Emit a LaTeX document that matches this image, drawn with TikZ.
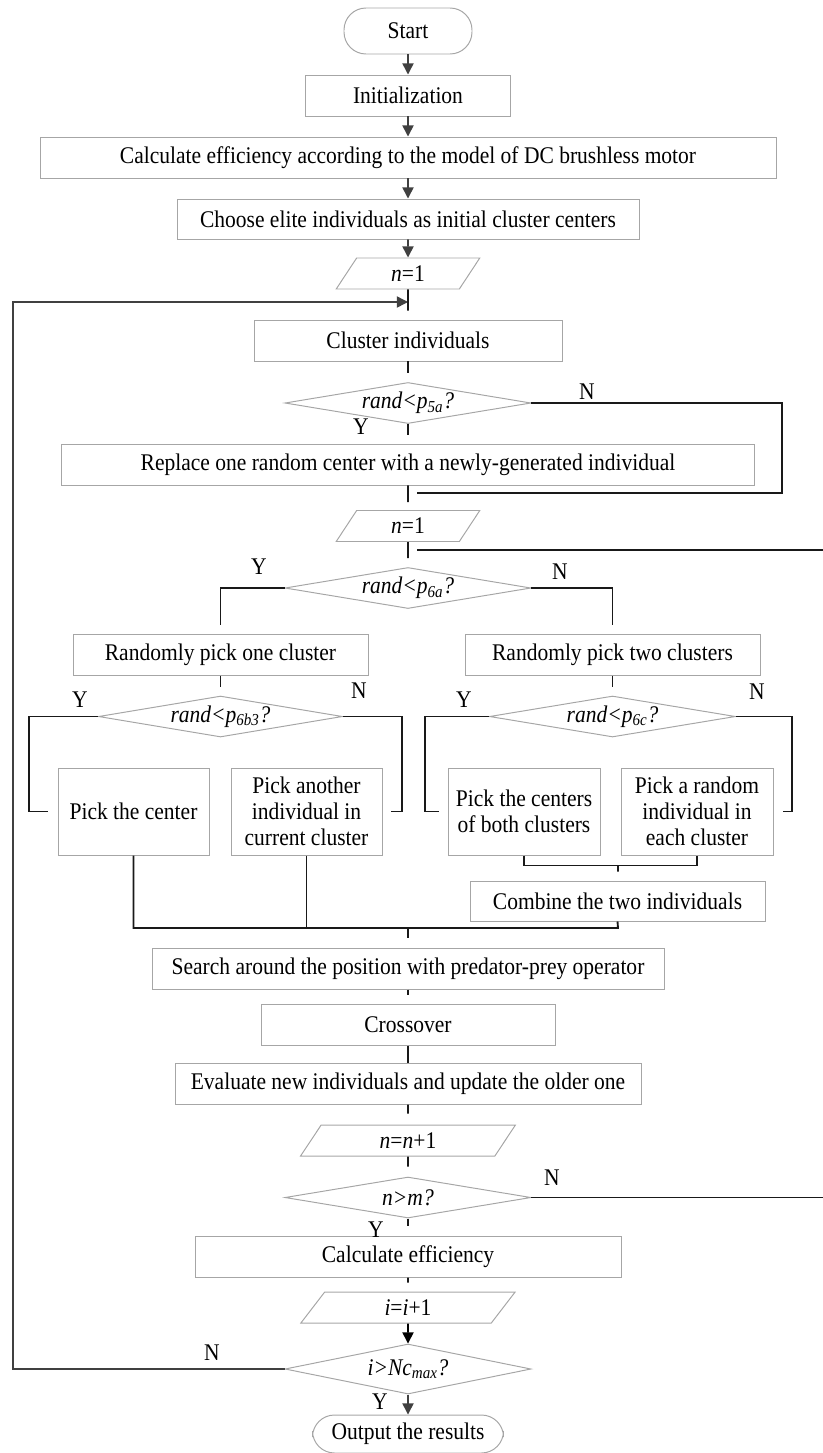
\documentclass[tikz,border=0pt]{standalone}
\usepackage{fontspec}
\setmainfont[FakeStretch=0.9]{Liberation Serif}
\usetikzlibrary{shapes.geometric,arrows.meta}
\newlength\pxl
\setlength\pxl{0.025cm}

\tikzset{
	procbox/.style={draw=black!35, line width=0.7pt, rectangle, inner sep=0pt, align=center},
	termbox/.style={procbox, rounded corners=0.55cm},
	iobox/.style={draw=black!35, line width=0.7pt, trapezium, trapezium left angle=67, trapezium right angle=113, trapezium stretches=true, inner sep=0pt, minimum height=31\pxl},
	decbox/.style={draw=black!35, line width=0.7pt, diamond, aspect=6, inner sep=0pt, minimum width=246\pxl, minimum height=41\pxl},
	conn/.style={line width=1.3pt, black!90},
	arr/.style={line width=1.1pt, black!75, -{Triangle[length=8pt,width=8pt]}},
	lab/.style={inner sep=0pt}
}

\begin{document}
\begin{tikzpicture}[x=\pxl, y=-\pxl, font=\fontsize{17}{18.5}\selectfont]
	\useasboundingbox (0,0) rectangle (822,1453);
	% main column
	\node[termbox, minimum width=128\pxl, minimum height=46\pxl] (start) at (408,31) {Start};
	\node[procbox, minimum width=205\pxl, minimum height=41\pxl] (init) at (408,95.5) {Initialization};
	\node[procbox, minimum width=736\pxl, minimum height=41\pxl] (calc) at (408,157.5) {Calculate efficiency according to the model of DC brushless motor};
	\node[procbox, minimum width=462\pxl, minimum height=40\pxl] (choose) at (408,219) {Choose elite individuals as initial cluster centers};
	\node[iobox, minimum width=144\pxl] (n1) at (408,273.5) {\textit{n}=1};
	\node[procbox, minimum width=308\pxl, minimum height=41\pxl] (clus) at (408,340.5) {Cluster individuals};
	\node[decbox] (d5a) at (408,403) {\textit{rand<p\textsubscript{5a}?}};
	\node[procbox, minimum width=693\pxl, minimum height=41\pxl] (repl) at (408,464.5) {Replace one random center with a newly-generated individual};
	\node[iobox, minimum width=144\pxl] (n1b) at (408,526) {\textit{n}=1};
	\node[decbox] (d6a) at (408,588) {\textit{rand<p\textsubscript{6a}?}};
	% two branches
	\node[procbox, minimum width=295\pxl, minimum height=41\pxl] (one) at (220.5,654.5) {Randomly pick one cluster};
	\node[procbox, minimum width=295\pxl, minimum height=41\pxl] (two) at (612.5,654.5) {Randomly pick two clusters};
	\node[decbox, minimum width=244\pxl] (d6b) at (220.5,716.5) {\textit{rand<p\textsubscript{6b3}?}};
	\node[decbox] (d6c) at (612.5,716.5) {\textit{rand<p\textsubscript{6c}?}};
	\node[procbox, minimum width=151\pxl, minimum height=87\pxl] (pcen) at (133.5,811.5) {Pick the center};
	\node[procbox, minimum width=151\pxl, minimum height=87\pxl] (pano) at (306.5,811.5) {Pick another\\individual in\\current cluster};
	\node[procbox, minimum width=152\pxl, minimum height=87\pxl] (pboth) at (524,811.5) {Pick the centers\\of both clusters};
	\node[procbox, minimum width=152\pxl, minimum height=87\pxl] (prand) at (697,811.5) {Pick a random\\individual in\\each cluster};
	\node[procbox, minimum width=295\pxl, minimum height=40\pxl] (comb) at (617.5,901) {Combine the two individuals};
	% lower column
	\node[procbox, minimum width=512\pxl, minimum height=41\pxl] (search) at (408,968.5) {Search around the position with predator-prey operator};
	\node[procbox, minimum width=294\pxl, minimum height=41\pxl] (cross) at (408,1024.5) {Crossover};
	\node[procbox, minimum width=466\pxl, minimum height=41\pxl] (eval) at (408,1083.5) {Evaluate new individuals and update the older one};
	\node[iobox, minimum width=215\pxl] (nn1) at (408,1140.5) {\textit{n}=\textit{n}+1};
	\node[decbox] (dnm) at (408,1197.5) {\textit{n>m?}};
	\node[procbox, minimum width=426\pxl, minimum height=41\pxl] (calc2) at (408,1256.5) {Calculate efficiency};
	\node[iobox, minimum width=215\pxl] (ii1) at (408,1307.5) {\textit{i}=\textit{i}+1};
	\node[decbox, minimum height=50\pxl] (dmax) at (408,1369) {\textit{i>Nc\textsubscript{max}?}};
	\node[termbox, minimum width=191\pxl, minimum height=38\pxl] (out) at (408,1434) {Output the results};

	% free ends
	\coordinate (loopin) at (408,302);
	\coordinate (ret5) at (417,493);
	\coordinate (ret6) at (417,550);
	\coordinate (pjoin) at (618,865);
	\coordinate (mjoin) at (618,928);
	\coordinate (sjoin) at (408,928);

	% arrows
	\draw[arr] (start) -- (init);
	\draw[arr] (init) -- (calc);
	\draw[arr] (calc) -- (choose);
	\draw[arr] (choose) -- (n1);
	\draw[arr, black] (ii1) -- (dmax);
	\draw[arr] (dmax) -- (out);
	\draw[arr] (dmax.west) -- (13,1369) -- (13,302) -- (loopin);

	% connectors
	\draw[conn, shorten >=9\pxl] (n1) -- (clus);
	\draw[conn, shorten >=9\pxl] (clus) -- (d5a);
	\draw[conn, shorten >=9\pxl] (d5a) -- (repl);
	\draw[conn] (d5a.east) -| (782,493) -- (ret5);
	\draw[conn, shorten >=8\pxl] (repl) -- (n1b);
	\draw[conn, shorten >=9\pxl] (n1b) -- (d6a);
	\draw[conn] (dnm.east) -- (830,1197.5) -- (830,550) -- (ret6);
	\draw[conn, shorten >=9\pxl] (d6a.west) -| (one.north);
	\draw[conn, shorten >=9\pxl] (d6a.east) -| (two.north);
	\draw[conn, shorten >=9\pxl] (one) -- (d6b);
	\draw[conn, shorten >=9\pxl] (two) -- (d6c);
	\draw[conn, shorten >=10\pxl] (d6b.west) -| (29,811.5) -- (pcen.west);
	\draw[conn, shorten >=9\pxl] (d6b.east) -| (402,811.5) -- (pano.east);
	\draw[conn, shorten >=9\pxl] (d6c.west) -| (425,811.5) -- (pboth.west);
	\draw[conn, shorten >=9\pxl] (d6c.east) -| (792,811.5) -- (prand.east);
	\draw[conn] (pboth.south) -- ++(0,10) -| (prand.south);
	\draw[conn, shorten >=9\pxl] (pjoin) -- (comb);
	\draw[conn] (pcen.south) |- (mjoin) -- (comb.south);
	\draw[conn] (pano.south) -- (pano.south |- mjoin);
	\draw[conn, shorten >=10\pxl] (sjoin) -- (search);
	\draw[conn, shorten >=9\pxl] (search) -- (cross);
	\draw[conn] (cross) -- (eval);
	\draw[conn, shorten >=11\pxl] (eval) -- (nn1);
	\draw[conn, shorten >=10\pxl] (nn1) -- (dnm);
	\draw[conn, shorten >=10\pxl] (dnm) -- (calc2);
	\draw[conn, shorten >=9\pxl] (calc2) -- (ii1);

	% Y / N labels
	\node[lab] (y5a) at (361,427) {Y};
	\node[lab] (n5a) at (587,392) {N};
	\node[lab] (y6a) at (259,567) {Y};
	\node[lab] (n6a) at (560,572) {N};
	\node[lab] (y6b) at (80,700) {Y};
	\node[lab] (n6b) at (359,691) {N};
	\node[lab] (y6c) at (464,700) {Y};
	\node[lab] (n6c) at (757,692) {N};
	\node[lab] (nnm) at (552,1178) {N};
	\node[lab] (ynm) at (376,1230) {Y};
	\node[lab] (nmax) at (212,1353) {N};
	\node[lab] (ymax) at (380,1402) {Y};
\end{tikzpicture}
\end{document}
